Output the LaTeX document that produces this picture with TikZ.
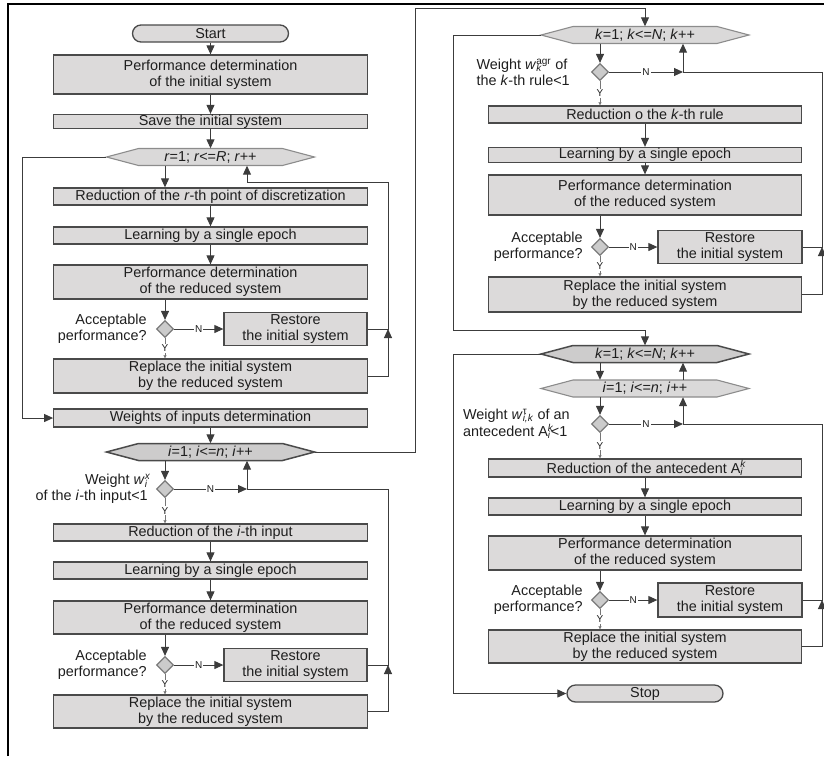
\documentclass[tikz,border=0pt]{standalone}
\usepackage{fontspec}
\setmainfont{Liberation Sans}
\usepackage{xcolor}
\definecolor{boxFill}  {HTML}{DCDADA}
\definecolor{boxLine}  {HTML}{4A4A4A}
\definecolor{hexFill}  {HTML}{DAD9D9}
\definecolor{hexLine}  {HTML}{8C8C8C}
\definecolor{decFill}  {HTML}{CBCBCB}
\definecolor{decLine}  {HTML}{7A7A7A}
\definecolor{wireCol}  {HTML}{3C3C3C}
\definecolor{inkText}  {HTML}{1E1E1E}
\usetikzlibrary{arrows.meta, positioning, calc, shapes.geometric}

% sup over sub (width of sub) / sub under sup (width of sup)
\newcommand{\ssup}[2]{\rlap{\textsuperscript{#1}}\textsubscript{#2}}
\newcommand{\ssub}[2]{\rlap{\textsubscript{#2}}\textsuperscript{#1}}
% loop header: [style]{name}{x}{y}{text}
\newcommand{\loophex}[5][hexlight]{%
  \path[#1] ({#3-104},#4) -- ({#3-72},{#4-8.5}) -- ({#3+72},{#4-8.5})
    -- ({#3+104},#4) -- ({#3+72},{#4+8.5}) -- ({#3-72},{#4+8.5}) -- cycle;
  \node[hexnode] (#2) at (#3,#4) {#5};}

\begin{document}
\begin{tikzpicture}[
    x=1pt, y=-1pt,
    every node/.style={font=\fontsize{14.4}{16}\selectfont, text=inkText},
    box/.style={draw=boxLine, fill=boxFill, line width=1.3pt, inner sep=0pt,
                align=center, minimum width=313.5pt},
    term/.style={draw=boxLine, fill=boxFill, line width=1.3pt, inner sep=0pt,
                 rounded corners=8.5pt, minimum width=156pt, minimum height=17pt},
    dec/.style={diamond, aspect=1, draw=decLine, fill=decFill, line width=1.2pt,
                minimum size=17pt, inner sep=0pt},
    hexnode/.style={inner sep=0pt, minimum width=208pt, minimum height=17pt},
    hexlight/.style={fill=hexFill, draw=hexLine, line width=1.1pt},
    hexdark/.style={fill=hexFill!94!black, draw=boxLine, line width=1.5pt},
    lab/.style={inner sep=0pt},
    flag/.style={fill=white, inner sep=1pt, font=\fontsize{10}{10}\selectfont},
    wire/.style={draw=wireCol, line width=1pt},
    arr/.style={wire, -{Triangle[length=9pt, width=8pt]}},
    yarr/.style={draw=wireCol!70, line width=0.6pt, -{Triangle[length=3pt, width=3pt]}}
]
\useasboundingbox (0,0) rectangle (824,756);
\draw[line width=1.2pt] (8,756) -- (8,4) -- (824,4);

% Left column: loop over discretization points
\node[term] (start) at (210.5,33.5) {Start};
\node[box, minimum height=39pt] (pdInit) at (210.5,74.5) {Performance determination\\of the initial system};
\node[box, minimum height=14pt] (save) at (210.5,121.5) {Save the initial system};
\loophex{loopR}{210.5}{157}{\textit{r}=1; \textit{r}<=\textit{R}; \textit{r}++}
\node[box, minimum height=17pt] (redR) at (210.5,196.5) {Reduction of the \textit{r}-th point of discretization};
\node[box, minimum height=17pt] (learnR) at (210.5,235.5) {Learning by a single epoch};
\node[box, minimum height=34pt] (pdR) at (210.5,282) {Performance determination\\of the reduced system};
\node[dec] (accR) at (165,329) {};
\node[lab, left=9pt of accR, align=right] (accRtxt) {Acceptable\\performance?};
\node[box, minimum width=143pt, minimum height=33pt] (restR) at (295.5,329) {Restore\\the initial system};
\node[box, minimum height=34pt] (replR) at (210.5,376) {Replace the initial system\\by the reduced system};
\node[box, minimum height=18pt] (weights) at (210.5,418) {Weights of inputs determination};

% Left column: loop over inputs
\loophex[hexdark]{loopI}{210.5}{452}{\textit{i}=1; \textit{i}<=\textit{n}; \textit{i}++}
\node[dec] (wI) at (165,489) {};
\node[lab, left=8pt of wI, align=right] (wItxt) {Weight \textit{w}\ssup{\textit{x}}{\textit{i}}\\of the \textit{i}-th input<1};
\node[box, minimum height=17pt] (redI) at (210.5,532.5) {Reduction of the \textit{i}-th input};
\node[box, minimum height=17pt] (learnI) at (210.5,570.5) {Learning by a single epoch};
\node[box, minimum height=33pt] (pdI) at (210.5,617.5) {Performance determination\\of the reduced system};
\node[dec] (accI) at (165,665) {};
\node[lab, left=9pt of accI, align=right] (accItxt) {Acceptable\\performance?};
\node[box, minimum width=143pt, minimum height=33pt] (restI) at (295.5,665) {Restore\\the initial system};
\node[box, minimum height=33pt] (replI) at (210.5,711.5) {Replace the initial system\\by the reduced system};

% Right column: loop over rules
\loophex{loopK}{645}{35}{\textit{k}=1; \textit{k}<=\textit{N}; \textit{k}++}
\node[dec] (wK) at (600,72) {};
\node[lab, left=21pt of wK, align=left] (wKtxt) {Weight \textit{w}\ssub{agr}{\textit{k}} of\\the \textit{k}-th rule<1};
\node[box, minimum height=17pt] (redK) at (645,114.5) {Reduction o the \textit{k}-th rule};
\node[box, minimum height=15pt] (learnK) at (645,155) {Learning by a single epoch};
\node[box, minimum height=40pt] (pdK) at (645,195) {Performance determination\\of the reduced system};
\node[dec] (accK) at (600,247) {};
\node[lab, left=8pt of accK, align=right] (accKtxt) {Acceptable\\performance?};
\node[box, minimum width=144pt, minimum height=33pt] (restK) at (730,247) {Restore\\the initial system};
\node[box, minimum height=35pt] (replK) at (645,294.5) {Replace the initial system\\by the reduced system};

% Right column: loops over antecedents
\loophex[hexdark]{loopKa}{645}{354}{\textit{k}=1; \textit{k}<=\textit{N}; \textit{k}++}
\loophex{loopIa}{645}{388.5}{\textit{i}=1; \textit{i}<=\textit{n}; \textit{i}++}
\node[dec] (wA) at (600,424) {};
\node[lab, left=21pt of wA, align=left] (wAtxt) {Weight \textit{w}\ssup{τ}{\textit{i,k}} of an\\antecedent A\ssup{\textit{k}}{\textit{i}}<1};
\node[box, minimum height=18pt] (redA) at (645,468) {Reduction of the antecedent A\ssup{\textit{k}}{\textit{i}}};
\node[box, minimum height=17pt] (learnA) at (645,506.5) {Learning by a single epoch};
\node[box, minimum height=34pt] (pdA) at (645,553) {Performance determination\\of the reduced system};
\node[dec] (accA) at (600,600) {};
\node[lab, left=8pt of accA, align=right] (accAtxt) {Acceptable\\performance?};
\node[box, minimum width=144pt, minimum height=34pt] (restA) at (730,600) {Restore\\the initial system};
\node[box, minimum height=33pt] (replA) at (645,646.5) {Replace the initial system\\by the reduced system};
\node[term] (stop) at (645,693.5) {Stop};

% junctions
\coordinate (jR) at (388,329);  \coordinate (upR) at (247,182);  \coordinate (outR) at (22,418);
\coordinate (upI) at (247,489); \coordinate (jI) at (388,665);   \coordinate (linkIK) at (415,8);
\coordinate (upK) at (683,72);  \coordinate (jK) at (822,247);   \coordinate (linkKK) at (453,330);
\coordinate (upA) at (683,424); \coordinate (jA) at (822,600);   \coordinate (outK) at (453,693.5);

% straight flow
\foreach \a/\b in {start/pdInit, pdInit/save, save/loopR, redR/learnR, learnR/pdR, weights/loopI,
                   redI/learnI, learnI/pdI, redK/learnK, learnK/pdK, redA/learnA, learnA/pdA}
    \draw[arr] (\a) -- (\b);
\foreach \a/\b/\c in {loopR/redR/accR, pdR/accR/accR, loopI/wI/wI, pdI/accI/accI, loopK/wK/wK,
                      pdK/accK/accK, loopKa/loopIa/wA, loopIa/wA/wA, pdA/accA/accA}
    \draw[arr] (\c |- \a.south) -- (\c |- \b.north);

% decisions
\foreach \d/\t in {accR/restR, accI/restI, accK/restK, accA/restA}
    \draw[arr] (\d.east) -- (\t.west) node[flag, midway] {N};
\foreach \d/\t in {wI/upI, wK/upK, wA/upA}
    \draw[arr] (\d.east) -- (\t) node[flag, midway] {N};
\foreach \d/\t in {accR/replR, accI/replI, accK/replK, accA/replA, wI/redI, wK/redK, wA/redA}
    \draw[yarr] (\d.south) -- (\d |- \t.north) node[flag, midway] {Y};

% back to loop headers
\draw[arr] (replR.east) -| (jR);
\draw[arr] (restR.east) -- (jR) |- (upR) -- (upR |- loopR.south);
\foreach \rp/\rs/\j/\u/\h in {replI/restI/jI/upI/loopI, replK/restK/jK/upK/loopK, replA/restA/jA/upA/loopIa} {
    \draw[arr] (\rp.east) -| (\j);
    \draw[wire] (\rs.east) -- (\j) |- (\u);
    \draw[arr] (\u) -- (\u |- \h.south);
}
\draw[arr] (upA |- loopIa.north) -- (upA |- loopKa.south);

% links between loops
\draw[arr] (loopR.west) -| (outR) -- (weights.west);
\draw[arr] (loopI.east) -| (linkIK) -| (loopK.north);
\draw[arr] (loopK.west) -| (linkKK) -| (loopKa.north);
\draw[arr] (loopKa.west) -| (outK) -- (stop.west);
\end{tikzpicture}
\end{document}
